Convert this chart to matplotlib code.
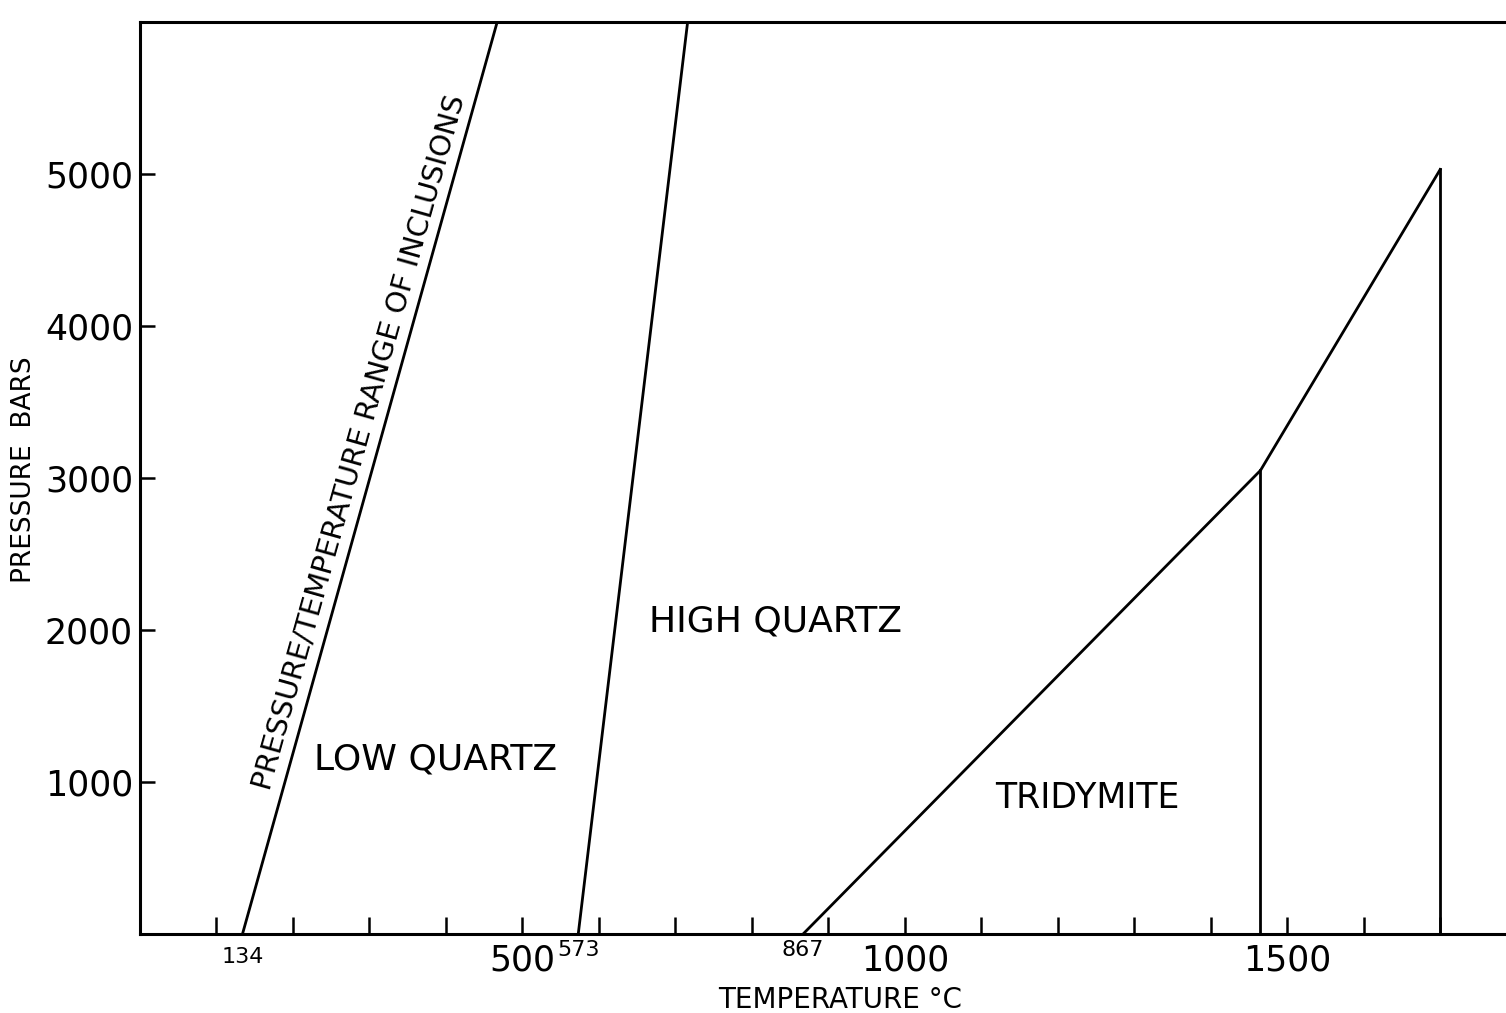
import matplotlib
matplotlib.use("Agg")
import matplotlib.pyplot as plt

# phase boundaries of silica (temperature degC, pressure bars)
incl_T = [134, 467]
incl_P = [0, 6000]
quartz_T = [573, 716]
quartz_P = [0, 6000]
trid_T = [867, 1465, 1700]
trid_P = [0, 3050, 5030]
cristo_T = [1465, 1700]
cristo_P = [3050, 5030]

x_ticks = list(range(100, 1800, 100))
x_labels = {500: "500", 1000: "1000", 1500: "1500"}
small_labels = [134, 573, 867]
y_ticks = [1000, 2000, 3000, 4000, 5000]

num_font = ["DejaVu Sans"]
txt_font = ["DejaVu Sans"]

fig = plt.figure(figsize=(15.06, 10.13), dpi=100)
ax = fig.add_axes([140 / 1506, 79 / 1013, 1 - 140 / 1506, 912 / 1013])

lw = 2.0
ax.plot(incl_T, incl_P, color="black", lw=lw)
ax.plot(quartz_T, quartz_P, color="black", lw=lw)
ax.plot(trid_T, trid_P, color="black", lw=lw)
for t, p in zip(cristo_T, cristo_P):
    ax.plot([t, t], [0, p], color="black", lw=lw)

ax.set_xlim(0, 1786)
ax.set_ylim(0, 6000)

for s in ["left", "top", "bottom"]:
    ax.spines[s].set_linewidth(2.2)
ax.spines["right"].set_visible(False)

ax.set_xticks(x_ticks)
ax.set_xticklabels([x_labels.get(t, "") for t in x_ticks], family=num_font, fontsize=25)
ax.set_yticks(y_ticks)
ax.set_yticklabels([str(v) for v in y_ticks], family=num_font, fontsize=25)
ax.tick_params(axis="x", direction="in", length=12, width=1.8, pad=7)
ax.tick_params(axis="y", direction="in", length=11, width=1.8, pad=5)

for v in small_labels:
    off = -9 if v == 134 else -4
    ax.annotate(str(v), xy=(v, 0), xycoords=("data", "axes fraction"),
                xytext=(0, off), textcoords="offset points", ha="center", va="top",
                family=num_font, fontsize=16)

ax.text(386, 1145, "LOW QUARTZ", fontsize=26, ha="center", va="center", family=txt_font)
ax.text(831, 2059, "HIGH QUARTZ", fontsize=26, ha="center", va="center", family=txt_font)
ax.text(1238, 895, "TRIDYMITE", fontsize=25, ha="center", va="center", family=txt_font)
ax.text(287, 3237, "PRESSURE/TEMPERATURE RANGE OF INCLUSIONS", fontsize=21,
        rotation=74.3, rotation_mode="anchor", ha="center", va="center", family=txt_font)

fig.text(24 / 1506, 1 - 470 / 1013, "PRESSURE  BARS", rotation=90, fontsize=19,
         ha="center", va="center", family=txt_font)
fig.text(840 / 1506, 1 - 1000 / 1013, "TEMPERATURE °C", fontsize=20,
         ha="center", va="center", family=txt_font)

fig.savefig("out.png", dpi=100)
